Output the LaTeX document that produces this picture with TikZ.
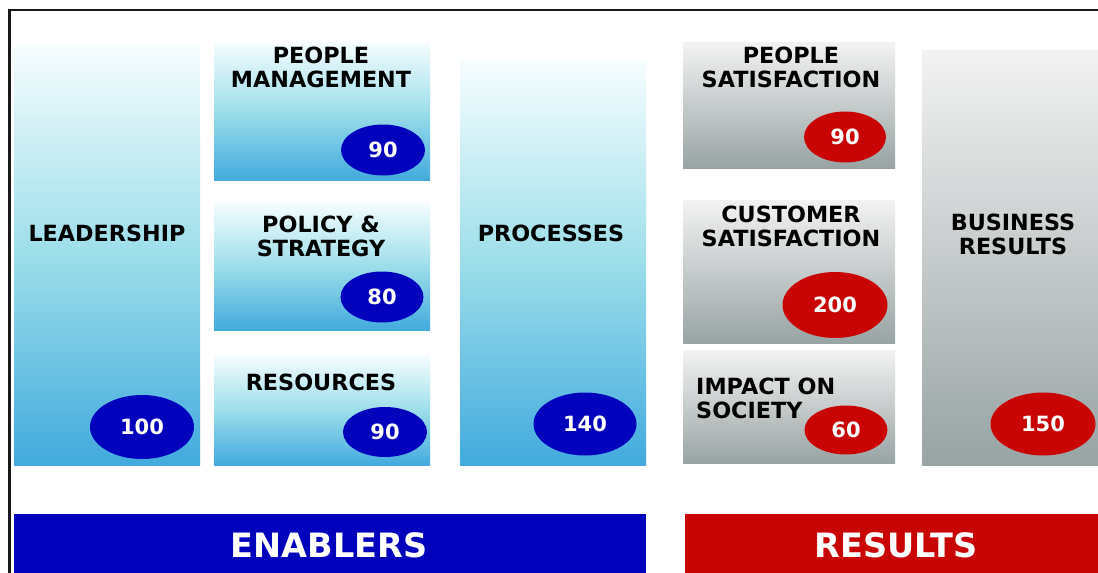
\documentclass[tikz,border=0pt]{standalone}
\usepackage{fontspec}
\setmainfont{DejaVu Sans}
\usetikzlibrary{shapes.geometric}
\definecolor{eblue}{HTML}{0202BC}
\definecolor{ered}{HTML}{C80404}
\definecolor{bluetop}{HTML}{F6FDFE}
\definecolor{bluemid}{HTML}{9CDEEA}
\definecolor{bluebot}{HTML}{42AADE}
\definecolor{greytop}{HTML}{F2F2F2}
\definecolor{greymid}{HTML}{C6CBCB}
\definecolor{greybot}{HTML}{98A3A3}
\tikzset{
  box/.style={rectangle, draw=none, inner sep=0pt, anchor=north west},
  bluebox/.style={box, top color=bluetop, bottom color=bluebot, middle color=bluemid},
  greybox/.style={box, top color=greytop, bottom color=greybot, middle color=greymid},
  lbl/.style={align=center, inner sep=0pt, font=\bfseries\fontsize{22.3}{24}\selectfont},
  score/.style={ellipse, inner sep=0pt, text=white, font=\bfseries\fontsize{21}{22}\selectfont},
  bscore/.style={score, fill=eblue},
  rscore/.style={score, fill=ered},
  bar/.style={rectangle, inner sep=0pt, anchor=north west},
  bartext/.style={text=white, inner sep=0pt, font=\bfseries\fontsize{33.5}{35}\selectfont}
}
\begin{document}
\begin{tikzpicture}[x=1pt,y=1pt]
\useasboundingbox (0,0) rectangle (1098,-573);
\fill[white] (0,0) rectangle (1098,-573);
% frame
\draw[line width=2.2pt, black!90] (9.5,-573) -- (9.5,-10) -- (1098,-10);
% enabler boxes
\node[bluebox, minimum width=186pt, minimum height=420pt] (lead) at (14,-45) {};
\node[bluebox, minimum width=216pt, minimum height=138pt] (pm) at (214,-42) {};
\node[bluebox, minimum width=216pt, minimum height=128pt] (ps) at (214,-202) {};
\node[bluebox, minimum width=216pt, minimum height=110pt] (res) at (214,-355) {};
\node[bluebox, minimum width=186pt, minimum height=405pt] (proc) at (460,-60) {};
% result boxes
\node[greybox, minimum width=212pt, minimum height=126pt] (psat) at (683,-42) {};
\node[greybox, minimum width=212pt, minimum height=143pt] (csat) at (683,-200) {};
\node[greybox, minimum width=212pt, minimum height=113pt] (imp) at (683,-350) {};
\node[greybox, minimum width=176pt, minimum height=415pt] (bus) at (922,-50) {};
% labels
\node[lbl] (tlead) at (107,-233) {LEADERSHIP};
\node[lbl] (tpm) at (321,-67) {PEOPLE\\MANAGEMENT};
\node[lbl] (tps) at (321,-236) {POLICY \&\\STRATEGY};
\node[lbl] (tres) at (321,-382) {RESOURCES};
\node[lbl] (tproc) at (551,-233) {PROCESSES};
\node[lbl] (tpsat) at (791,-67) {PEOPLE\\SATISFACTION};
\node[lbl] (tcsat) at (791,-226) {CUSTOMER\\SATISFACTION};
\node[lbl, align=left, anchor=west] (timp) at (696,-398.5) {IMPACT ON\\SOCIETY};
\node[lbl] (tbus) at (1013,-234.5) {BUSINESS\\RESULTS};
% scores
\node[bscore, minimum width=104pt, minimum height=64pt] (s1) at (142,-427) {100};
\node[bscore, minimum width=84pt, minimum height=51pt] (s2) at (383,-150) {90};
\node[bscore, minimum width=83pt, minimum height=51pt] (s3) at (382,-297) {80};
\node[bscore, minimum width=84pt, minimum height=50pt] (s4) at (385,-432) {90};
\node[bscore, minimum width=103pt, minimum height=63pt] (s5) at (585,-424) {140};
\node[rscore, minimum width=82pt, minimum height=51pt] (s6) at (845,-137) {90};
\node[rscore, minimum width=105pt, minimum height=66pt] (s7) at (835,-305) {200};
\node[rscore, minimum width=83pt, minimum height=49pt] (s8) at (846,-430) {60};
\node[rscore, minimum width=105pt, minimum height=63pt] (s9) at (1043,-424) {150};
% bars
\node[bar, fill=eblue, minimum width=632pt, minimum height=59pt] (enab) at (14,-514) {};
\node[bartext] (tenab) at (329,-545) {ENABLERS};
\node[bar, fill=ered, minimum width=413pt, minimum height=59pt] (resu) at (685,-514) {};
\node[bartext] (tresu) at (896,-545) {RESULTS};
\end{tikzpicture}
\end{document}
